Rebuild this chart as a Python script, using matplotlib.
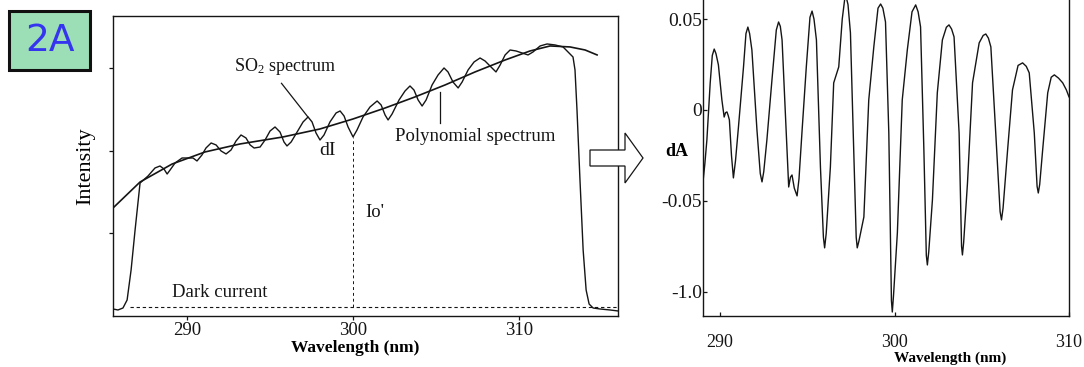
import matplotlib
matplotlib.use("Agg")
import matplotlib.pyplot as plt
from matplotlib.patches import Rectangle, Polygon

plt.rcParams['font.family'] = ['Liberation Serif', 'DejaVu Serif']
plt.rcParams['mathtext.fontset'] = 'custom'
plt.rcParams['mathtext.rm'] = 'Liberation Serif'
plt.rcParams['mathtext.it'] = 'Liberation Serif:italic'

# ---------------- data: left panel (raw spectrum) ----------------
so2_wl = [285.54, 285.84, 286.14, 286.39, 286.63, 286.87, 287.17, 287.65, 288.07, 288.37,
          288.61, 288.80, 288.98, 289.28, 289.70, 290.06, 290.36, 290.60, 290.90, 291.14,
          291.45, 291.75, 292.05, 292.35, 292.65, 292.95, 293.25, 293.55, 293.80, 294.04,
          294.40, 294.70, 295.00, 295.30, 295.60, 295.84, 296.02, 296.27, 296.63, 296.99,
          297.29, 297.53, 297.77, 298.01, 298.25, 298.61, 298.98, 299.22, 299.46, 299.70,
          300.00, 300.24, 300.60, 301.02, 301.45, 301.69, 301.93, 302.11, 302.35, 302.77,
          303.13, 303.43, 303.67, 303.92, 304.16, 304.40, 304.76, 305.12, 305.48, 305.72,
          306.02, 306.33, 306.57, 306.93, 307.29, 307.65, 307.95, 308.25, 308.61, 308.86,
          309.16, 309.46, 309.82, 310.18, 310.54, 310.84, 311.27, 311.69, 312.17, 312.65,
          312.95, 313.25, 313.37, 313.49, 313.67, 313.86, 314.04, 314.22, 314.46, 314.88,
          315.48, 315.96]
so2_int = [0.085, 0.073, 0.097, 0.194, 0.558, 1.042, 1.612, 1.697, 1.794, 1.818,
           1.782, 1.721, 1.770, 1.855, 1.915, 1.915, 1.915, 1.879, 1.952, 2.036,
           2.097, 2.073, 2.000, 1.964, 2.012, 2.121, 2.194, 2.158, 2.073, 2.036,
           2.048, 2.133, 2.242, 2.291, 2.230, 2.109, 2.061, 2.109, 2.230, 2.352,
           2.412, 2.352, 2.218, 2.133, 2.194, 2.352, 2.461, 2.485, 2.424, 2.291,
           2.170, 2.255, 2.412, 2.533, 2.606, 2.558, 2.436, 2.376, 2.448, 2.618,
           2.727, 2.788, 2.739, 2.618, 2.545, 2.618, 2.800, 2.921, 3.006, 2.958,
           2.836, 2.764, 2.836, 2.982, 3.079, 3.127, 3.091, 3.030, 2.958, 3.042,
           3.164, 3.224, 3.212, 3.188, 3.164, 3.200, 3.273, 3.297, 3.285, 3.261,
           3.200, 3.139, 2.982, 2.497, 1.648, 0.800, 0.315, 0.145, 0.097, 0.085,
           0.073, 0.061]

poly_wl = [285.54, 287.17, 289.10, 291.08, 293.19, 295.78, 298.01, 300.00, 301.93,
           303.73, 305.54, 307.35, 309.16, 310.66, 311.87, 313.07, 313.98, 314.70]
poly_int = [1.309, 1.624, 1.842, 1.988, 2.085, 2.170, 2.267, 2.388, 2.521,
            2.655, 2.800, 2.958, 3.103, 3.212, 3.273, 3.261, 3.224, 3.164]

dark_level = 0.11
dark_start = 286.57
io_wl = 300.0
io_top = 2.17

left_xticks = [290, 300, 310]
left_yticks = [1, 2, 3]

# ---------------- data: right panel (differential absorbance) ----------------
dA_wl = [289.01, 289.12, 289.24, 289.43, 289.55, 289.66, 289.76, 289.90, 290.10, 290.23,
         290.31, 290.39, 290.46, 290.53, 290.65, 290.76, 290.88, 291.05, 291.34, 291.48,
         291.59, 291.69, 291.82, 292.11, 292.30, 292.40, 292.50, 292.68, 292.97, 293.22,
         293.35, 293.45, 293.55, 293.79, 293.93, 294.03, 294.12, 294.25, 294.41, 294.52,
         294.70, 294.94, 295.15, 295.27, 295.38, 295.52, 295.75, 295.92, 295.99, 296.08,
         296.32, 296.51, 296.80, 297.00, 297.18, 297.33, 297.47, 297.63, 297.80, 297.86,
         297.96, 298.24, 298.52, 298.81, 299.05, 299.20, 299.33, 299.48, 299.67, 299.82,
         299.87, 299.94, 300.16, 300.44, 300.73, 301.00, 301.21, 301.35, 301.49, 301.68,
         301.82, 301.88, 301.96, 302.17, 302.45, 302.74, 302.97, 303.12, 303.27, 303.41,
         303.70, 303.84, 303.89, 303.96, 304.18, 304.47, 304.85, 305.08, 305.23, 305.38,
         305.52, 305.80, 306.05, 306.13, 306.22, 306.48, 306.76, 307.08, 307.34, 307.55,
         307.72, 308.01, 308.17, 308.24, 308.32, 308.49, 308.78, 308.98, 309.16, 309.40,
         309.64, 309.85, 310.00]
dA_val = [-0.0402, -0.0300, -0.0165, 0.0149, 0.0300, 0.0335, 0.0310, 0.0248, 0.0055, -0.0039,
          -0.0015, -0.0011, -0.0030, -0.0055, -0.0250, -0.0374, -0.0280, -0.0094, 0.0237, 0.0420,
          0.0456, 0.0420, 0.0330, -0.0110, -0.0350, -0.0396, -0.0340, -0.0165, 0.0165, 0.0440,
          0.0484, 0.0460, 0.0385, -0.0127, -0.0424, -0.0370, -0.0358, -0.0430, -0.0473, -0.0380,
          -0.0110, 0.0237, 0.0510, 0.0544, 0.0500, 0.0385, -0.0314, -0.0700, -0.0759, -0.0680,
          -0.0314, 0.0149, 0.0237, 0.0500, 0.0640, 0.0580, 0.0424, -0.0127, -0.0700, -0.0759,
          -0.0720, -0.0589, 0.0055, 0.0347, 0.0560, 0.0583, 0.0560, 0.0484, -0.0127, -0.1050,
          -0.1112, -0.1020, -0.0677, 0.0055, 0.0330, 0.0540, 0.0578, 0.0540, 0.0457, -0.0220,
          -0.0800, -0.0853, -0.0780, -0.0495, 0.0094, 0.0385, 0.0455, 0.0468, 0.0445, 0.0402,
          -0.0127, -0.0750, -0.0798, -0.0730, -0.0402, 0.0149, 0.0369, 0.0410, 0.0418, 0.0395,
          0.0347, -0.0127, -0.0560, -0.0605, -0.0540, -0.0220, 0.0110, 0.0245, 0.0259, 0.0240,
          0.0204, -0.0127, -0.0420, -0.0457, -0.0410, -0.0220, 0.0094, 0.0180, 0.0193, 0.0175,
          0.0149, 0.0110, 0.0072]

right_xticks = [290, 300, 310]
right_yticks = [0.05, 0.0, -0.05, -0.10]
right_yticklabels = ['0.05', '0', '-0.05', '-1.0']

# ---------------- figure ----------------
W, H = 1084, 367
fig = plt.figure(figsize=(W / 100, H / 100), dpi=100)
ink = '#151515'

def fx(px):
    return px / W

def fy(py):
    return 1 - py / H

# left axes
ax1 = fig.add_axes([fx(113), fy(316), fx(618) - fx(113), fy(16) - fy(316)])
ax1.plot(so2_wl, so2_int, color=ink, lw=1.0, solid_joinstyle='round')
ax1.plot(poly_wl, poly_int, color=ink, lw=1.2, solid_joinstyle='round')
ax1.plot([dark_start, 315.96], [dark_level, dark_level], color=ink, lw=0.8,
         linestyle=(0, (3, 2.5)))
ax1.plot([io_wl, io_wl], [dark_level, io_top], color=ink, lw=0.7,
         linestyle=(0, (3, 3)))
ax1.set_xlim(285.54, 315.96)
ax1.set_ylim(0, 3.636)
ax1.set_xticks(left_xticks)
ax1.set_xticklabels([str(t) for t in left_xticks])
ax1.set_yticks(left_yticks)
ax1.set_yticklabels([])
ax1.tick_params(axis='both', direction='out', length=3, width=0.9, labelsize=13.5,
                pad=1, colors=ink)
for s in ax1.spines.values():
    s.set_linewidth(1.0)
    s.set_color(ink)
ax1.set_xlabel('Wavelength (nm)', fontsize=12.5, fontweight='bold', va='center')
ax1.xaxis.set_label_coords((355 - 113) / 505, (316 - 348) / 300)
ax1.set_ylabel('Intensity', fontsize=16, va='center')
ax1.yaxis.set_label_coords((86 - 113) / 505, 0.5)

ax1.text(295.9, 3.02, 'SO$_2$ spectrum', fontsize=13, ha='center', va='center', color=ink)
ax1.plot([295.69, 297.29], [2.82, 2.41], color=ink, lw=0.9)
ax1.text(302.53, 2.17, 'Polynomial spectrum', fontsize=13.5, ha='left', va='center', color=ink)
ax1.plot([305.24, 305.24], [2.715, 2.34], color=ink, lw=0.9)
ax1.text(298.49, 2.01, 'dI', fontsize=14, ha='center', va='center', color=ink)
ax1.text(300.72, 1.25, "Io'", fontsize=13.5, ha='left', va='center', color=ink)
ax1.text(289.10, 0.29, 'Dark current', fontsize=13.5, ha='left', va='center', color=ink)

# right axes
ax2 = fig.add_axes([fx(702.7), fy(316), fx(1069) - fx(702.7), 1 - fy(316)])
ax2.plot(dA_wl, dA_val, color=ink, lw=1.0, solid_joinstyle='round')
ax2.set_xlim(289.0, 310.0)
ax2.set_ylim(-0.1134, 0.0605)
ax2.set_xticks(right_xticks)
ax2.set_xticklabels([str(t) for t in right_xticks])
ax2.set_yticks(right_yticks)
ax2.set_yticklabels(right_yticklabels)
ax2.tick_params(axis='x', direction='in', length=3, width=0.9, labelsize=13, pad=13,
                colors=ink)
ax2.tick_params(axis='y', direction='in', length=3, width=0.9, labelsize=14, pad=0.5,
                colors=ink)
ax2.spines['top'].set_visible(False)
for k in ('left', 'right', 'bottom'):
    ax2.spines[k].set_linewidth(1.0)
    ax2.spines[k].set_color(ink)
ax2.set_xlabel('Wavelength (nm)', fontsize=11, fontweight='bold', va='center')
ax2.xaxis.set_label_coords((950 - 702.7) / 366.3, (316 - 358) / 316)
ax2.set_ylabel('dA', fontsize=13, fontweight='bold', rotation=0, va='center', ha='center')
ax2.yaxis.set_label_coords((677 - 702.7) / 366.3, (316 - 152) / 316)

# arrow between panels
arrow_px = [(590, 150), (625, 150), (625, 133), (643, 158), (625, 183), (625, 166), (590, 166)]
arrow = Polygon([(fx(x), fy(y)) for x, y in arrow_px], closed=True, transform=fig.transFigure,
                facecolor='white', edgecolor=ink, lw=0.9, zorder=10)
fig.add_artist(arrow)

# "2A" label box
box = Rectangle((fx(9), fy(70)), fx(90) - fx(9), fy(11) - fy(70), transform=fig.transFigure,
                facecolor='#9cdeb6', edgecolor='#111111', lw=2.2, zorder=10)
fig.add_artist(box)
fig.text(fx(50), fy(41), '2A', fontsize=27, color='#3535f0', ha='center', va='center',
         family='DejaVu Sans', zorder=11)

fig.savefig('out.png', dpi=100)
